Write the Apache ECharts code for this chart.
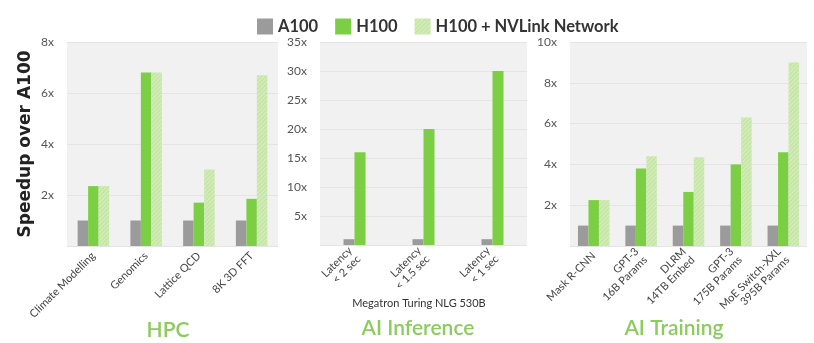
<!DOCTYPE html>
<html>
<head>
<meta charset="utf-8">
<script src="https://cdn.jsdelivr.net/npm/echarts@6/dist/echarts.min.js"></script>
<style>
html,body{margin:0;padding:0;background:#fff;}
#chart{width:814px;height:343px;}
</style>
</head>
<body>
<div id="chart"></div>
<script>
// ---- data ----
const seriesNames = ['A100', 'H100', 'H100 + NVLink Network'];
const hpcCats = ['Climate Modelling', 'Genomics', 'Lattice QCD', '8K 3D FFT'];
const hpcA100 = [1, 1, 1, 1];
const hpcH100 = [2.35, 6.8, 1.7, 1.85];
const hpcNVL = [2.35, 6.8, 3.0, 6.7];
const infCats = ['Latency\n< 2 sec', 'Latency\n< 1.5 sec', 'Latency\n< 1 sec'];
const infA100 = [1, 1, 1];
const infH100 = [16, 20, 30];
const trainCats = ['Mask R-CNN', 'GPT-3\n16B Params', 'DLRM\n14TB Embed', 'GPT-3\n175B Params', 'MoE Switch-XXL\n395B Params'];
const trainA100 = [1, 1, 1, 1, 1];
const trainH100 = [2.25, 3.8, 2.65, 4.0, 4.6];
const trainNVL = [2.25, 4.4, 4.35, 6.3, 9.0];
const panelTitles = ['HPC', 'AI Inference', 'AI Training'];
const inferenceNote = 'Megatron Turing NLG 530B';
const yTicks = [{max: 8, interval: 2}, {max: 35, interval: 5}, {max: 10, interval: 2}];

// ---- styles ----
const colors = ['#9b9b9b', '#7ccf45', '#c6e6a6'];
const labelFont = 'Lato, "Open Sans", sans-serif';
const hatch = {symbol: 'rect', symbolSize: 1, dashArrayX: [1, 0], dashArrayY: [1, 2], rotation: -Math.PI / 4, color: 'rgba(255,255,255,0.3)'};

const chart = echarts.init(document.getElementById('chart'));

function xAxisFor(idx, cats) {
  return {
    type: 'category', gridIndex: idx, data: cats,
    axisLine: {show: false}, axisTick: {show: false},
    axisLabel: {rotate: 45, interval: 0, fontSize: 11, color: '#444', fontFamily: labelFont, margin: 8, lineHeight: 12}
  };
}
function yAxisFor(idx, t, extra) {
  return Object.assign({
    type: 'value', gridIndex: idx, min: 0, max: t.max, interval: t.interval,
    axisLine: {show: false}, axisTick: {show: false},
    splitLine: {show: true, lineStyle: {color: '#e4e4e4', width: 1}},
    axisLabel: {showMinLabel: false, formatter: '{value}x', fontSize: 12, color: '#555', fontFamily: labelFont, margin: 13}
  }, extra || {});
}
function bar(name, idx, data, colorIdx, w) {
  const style = {color: colors[colorIdx]};
  if (colorIdx === 2) style.decal = hatch;
  return {
    name: name, type: 'bar', xAxisIndex: idx, yAxisIndex: idx, data: data,
    barWidth: w, barGap: '0%', itemStyle: style, silent: true
  };
}

const option = {
  animation: false,
  backgroundColor: '#ffffff',
  legend: {
    data: seriesNames, left: 252, top: 13, icon: 'rect', itemWidth: 16, itemHeight: 16, itemGap: 17,
    textStyle: {fontSize: 16.5, fontWeight: 'bold', color: '#333', fontFamily: 'Lato, sans-serif'}
  },
  grid: [
    {left: 67, right: 536, top: 42, bottom: 97, show: true, backgroundColor: '#f1f1f1', borderWidth: 0},
    {left: 320, right: 287, top: 42, bottom: 98, show: true, backgroundColor: '#f1f1f1', borderWidth: 0},
    {left: 570, right: 7, top: 42, bottom: 97, show: true, backgroundColor: '#f1f1f1', borderWidth: 0}
  ],
  xAxis: [xAxisFor(0, hpcCats), xAxisFor(1, infCats), xAxisFor(2, trainCats)],
  yAxis: [
    yAxisFor(0, yTicks[0], {name: 'Speedup over A100', nameLocation: 'middle', nameRotate: 90, nameGap: 33,
      nameTextStyle: {fontSize: 17, fontWeight: 'bold', color: '#222', fontFamily: '"DejaVu Sans", sans-serif'}}),
    yAxisFor(1, yTicks[1]),
    yAxisFor(2, yTicks[2])
  ],
  series: [
    bar(seriesNames[0], 0, hpcA100, 0, 10.5),
    bar(seriesNames[1], 0, hpcH100, 1, 10.5),
    bar(seriesNames[2], 0, hpcNVL, 2, 10.5),
    bar(seriesNames[0], 1, infA100, 0, 11),
    bar(seriesNames[1], 1, infH100, 1, 11),
    bar(seriesNames[0], 2, trainA100, 0, 10.5),
    bar(seriesNames[1], 2, trainH100, 1, 10.5),
    bar(seriesNames[2], 2, trainNVL, 2, 10.5)
  ],
  graphic: [
    {type: 'text', x: 419, y: 303, style: {text: inferenceNote, align: 'center', verticalAlign: 'middle', fill: '#333', font: '11px ' + labelFont}},
    {type: 'text', x: 168, y: 330, style: {text: panelTitles[0], align: 'center', verticalAlign: 'middle', fill: '#8ccb5e', font: '600 21px ' + labelFont}},
    {type: 'text', x: 418, y: 328, style: {text: panelTitles[1], align: 'center', verticalAlign: 'middle', fill: '#8ccb5e', font: '600 21px ' + labelFont}},
    {type: 'text', x: 674, y: 328, style: {text: panelTitles[2], align: 'center', verticalAlign: 'middle', fill: '#8ccb5e', font: '600 21px ' + labelFont}}
  ]
};
chart.setOption(option);
</script>
</body>
</html>
